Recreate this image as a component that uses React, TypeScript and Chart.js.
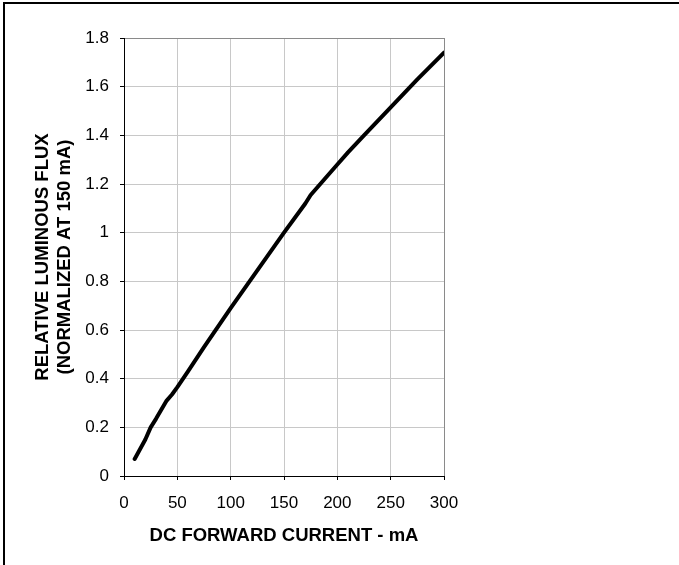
import React, { useEffect, useRef } from "react";
import { Chart, registerables } from "chart.js";

Chart.register(...registerables);

const currents = [10, 20, 25, 30, 40, 45, 50, 60, 75, 100, 125, 150, 170, 175, 200, 210, 225, 250, 275, 300];
const flux = [0.07, 0.15, 0.2, 0.235, 0.31, 0.335, 0.365, 0.43, 0.53, 0.69, 0.845, 1.0, 1.12, 1.155, 1.28, 1.33, 1.4, 1.515, 1.63, 1.74];
const xTickLabels = ["0", "50", "100", "150", "200", "250", "300"];
const yTickLabels = ["0", "0.2", "0.4", "0.6", "0.8", "1", "1.2", "1.4", "1.6", "1.8"];
const xTitle = "DC FORWARD CURRENT - mA";
const yTitle = ["RELATIVE LUMINOUS FLUX", "(NORMALIZED AT 150 mA)"];

const FONT = "'Liberation Sans', Arial, sans-serif";

export default function App() {
  const ref = useRef<HTMLCanvasElement | null>(null);
  useEffect(() => {
    if (!ref.current) return;
    const chart = new Chart(ref.current, {
      type: "line",
      data: {
        datasets: [
          {
            data: currents.map((c, i) => ({ x: c, y: flux[i] })),
            borderColor: "#000",
            borderWidth: 4,
            pointRadius: 0,
            tension: 0,
            borderCapStyle: "round",
            borderJoinStyle: "round",
          },
        ],
      },
      options: {
        animation: false,
        responsive: true,
        maintainAspectRatio: false,
        layout: { padding: { left: 0, top: 38, right: 235, bottom: 0 } },
        plugins: { legend: { display: false }, tooltip: { enabled: false } },
        scales: {
          x: {
            type: "linear",
            min: 0,
            max: 300,
            afterFit: (s: any) => {
              s.height = 89;
            },
            ticks: {
              stepSize: 50,
              color: "#000",
              padding: 13,
              maxRotation: 0,
              font: { family: FONT, size: 17 },
              callback: (_v: any, i: number) => xTickLabels[i],
            },
            grid: {
              color: (ctx: any) => (ctx.tick && ctx.tick.value === 300 ? "#8a8a8a" : "#c8c8c8"),
              tickColor: "#000",
              tickLength: 4,
              lineWidth: 1,
            },
            border: { color: "#000", width: 1 },
            title: {
              display: true,
              text: xTitle,
              color: "#000",
              font: { family: FONT, size: 18.5, weight: "bold" },
              padding: { top: 0, bottom: 18 },
            },
          },
          y: {
            type: "linear",
            min: 0,
            max: 1.8,
            afterFit: (s: any) => {
              s.width = 124;
            },
            ticks: {
              stepSize: 0.2,
              color: "#000",
              padding: 11,
              font: { family: FONT, size: 17 },
              callback: (_v: any, i: number) => yTickLabels[i],
            },
            grid: {
              color: (ctx: any) =>
                ctx.tick && Math.abs(ctx.tick.value - 1.8) < 1e-6 ? "#8a8a8a" : "#c8c8c8",
              tickColor: "#000",
              tickLength: 4,
              lineWidth: 1,
            },
            border: { color: "#000", width: 1 },
            title: {
              display: true,
              text: yTitle,
              color: "#000",
              font: { family: FONT, size: 18.5, weight: "bold" },
              padding: { top: 32, bottom: 0 },
            },
          },
        },
      },
    });
    return () => chart.destroy();
  }, []);

  return (
    <div style={{ position: "fixed", left: 0, top: 0, width: 679, height: 565, background: "#fff" }}>
      <div
        style={{
          position: "absolute",
          left: 3,
          top: 2,
          right: -10,
          bottom: -10,
          borderLeft: "2px solid #000",
          borderTop: "2px solid #000",
        }}
      />
      <div style={{ position: "absolute", left: 0, top: 0, width: 679, height: 565 }}>
        <canvas ref={ref} />
      </div>
    </div>
  );
}
